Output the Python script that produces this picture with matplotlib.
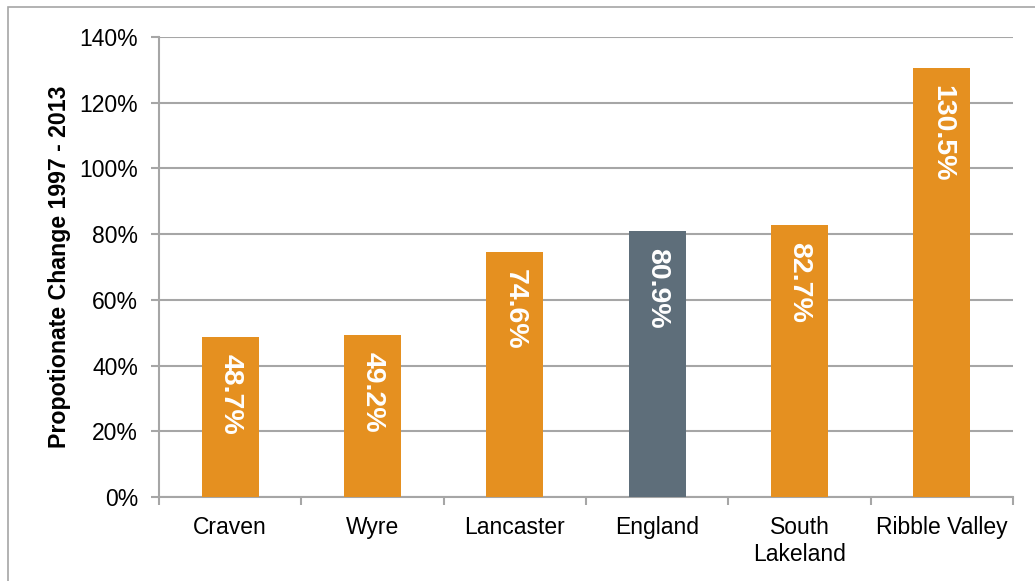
import matplotlib
matplotlib.use('Agg')
import matplotlib.pyplot as plt
from matplotlib.patches import Rectangle
from matplotlib.ticker import FuncFormatter, FixedLocator
import numpy as np

# data
areas = ['Craven', 'Wyre', 'Lancaster', 'England', 'South\nLakeland', 'Ribble Valley']
change_pct = [48.7, 49.2, 74.6, 80.9, 82.7, 130.5]
bar_colors = ['#E59020', '#E59020', '#E59020', '#5E6E7A', '#E59020', '#E59020']
y_ticks = [0, 20, 40, 60, 80, 100, 120, 140]

plt.rcParams['font.family'] = ['Liberation Sans', 'DejaVu Sans']
GRID = '#A6A6A6'

fig = plt.figure(figsize=(10.35, 5.81), dpi=100)
ax = fig.add_axes([159/1035, 1 - 497/581, (1013 - 159)/1035, (497 - 37)/581])

# outer chart border (cropped on right/bottom)
fig.patches.append(Rectangle((8/1035, -0.1), 1.2, 1 - 7/581 + 0.1,
                             transform=fig.transFigure, fill=False,
                             edgecolor=GRID, linewidth=1.2))

x = np.arange(len(areas))
bars = ax.bar(x, change_pct, width=0.40, color=bar_colors, zorder=3)

for xi, v in zip(x, change_pct):
    ax.annotate(f'{v}%', xy=(xi, v), xytext=(0, -17), textcoords='offset pixels',
                rotation=-90, ha='center', va='top', color='white',
                fontsize=20.5, fontweight='bold', zorder=4)

ax.set_xlim(-0.5, len(areas) - 0.5)
ax.set_ylim(0, 140)
ax.set_yticks(y_ticks)
ax.yaxis.set_major_formatter(FuncFormatter(lambda v, p: f'{v:.0f}%'))
ax.grid(axis='y', color=GRID, linewidth=1.5, zorder=0)

ax.set_xticks(x)
ax.set_xticklabels(areas, fontsize=16.5, linespacing=1.2)
ax.xaxis.set_minor_locator(FixedLocator(np.arange(-0.5, len(areas), 1.0)))
ax.tick_params(axis='x', which='major', length=0, pad=14)
ax.tick_params(axis='x', which='minor', length=6, width=1.5, color=GRID)
ax.tick_params(axis='y', length=6, width=1.5, color=GRID, labelsize=16.5, pad=9)

for s in ['top', 'right']:
    ax.spines[s].set_visible(False)
for s in ['left', 'bottom']:
    ax.spines[s].set_color(GRID)
    ax.spines[s].set_linewidth(1.5)

ax.set_ylabel('Propotionate Change 1997 - 2013', fontsize=16.7, fontweight='bold', labelpad=6)

fig.savefig('out.png', dpi=100)
